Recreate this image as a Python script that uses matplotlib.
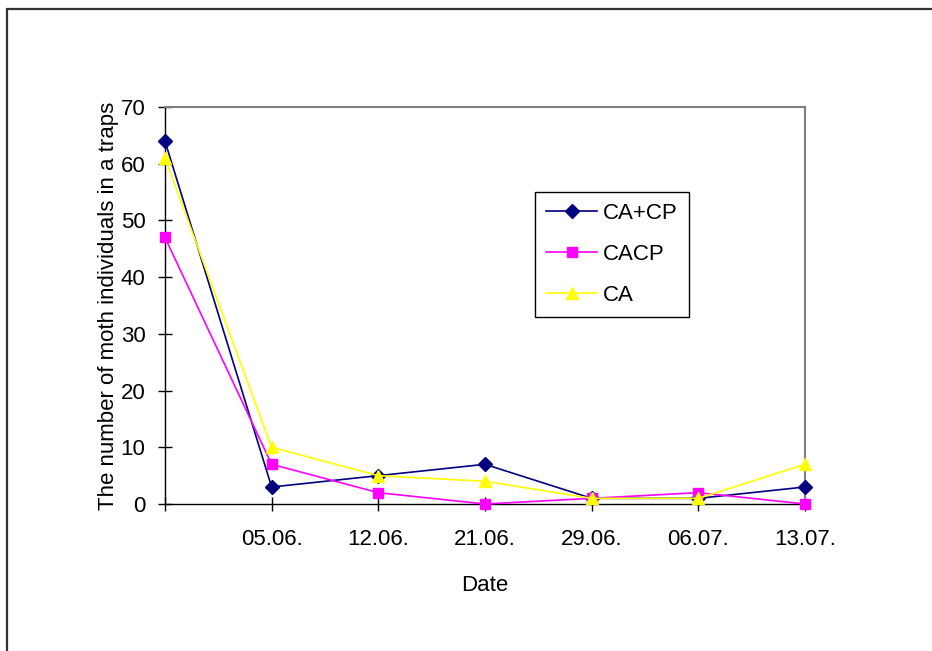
import matplotlib
matplotlib.use("Agg")
import matplotlib.pyplot as plt
from matplotlib.patches import Rectangle

plt.rcParams["font.family"] = ["Liberation Sans", "DejaVu Sans"]

dates = ["", "05.06.", "12.06.", "21.06.", "29.06.", "06.07.", "13.07."]
ca_cp = [64, 3, 5, 7, 1, 1, 3]
cacp = [47, 7, 2, 0, 1, 2, 0]
ca = [61, 10, 5, 4, 1, 1, 7]

fig = plt.figure(figsize=(9.32, 6.51), dpi=100)

# outer chart frame
fig.patches.append(Rectangle((0.0075, -0.2), 1.5, 1.186, transform=fig.transFigure,
                             fill=False, edgecolor="#333333", linewidth=1.6))

ax = fig.add_axes([0.177, 0.2258, 0.6867, 0.6098])
x = list(range(len(dates)))

ax.plot(x, ca_cp, color="#000080", marker="D", markersize=7, linewidth=1.2,
        label="CA+CP", clip_on=False, zorder=3)
ax.plot(x, cacp, color="#FF00FF", marker="s", markersize=7, linewidth=1.2,
        label="CACP", clip_on=False, zorder=3)
ax.plot(x, ca, color="#FFFF00", marker="^", markersize=9, linewidth=1.2,
        label="CA", clip_on=False, zorder=3)

ax.set_xlim(0, 6)
ax.set_ylim(0, 70)
ax.set_xticks(x)
ax.set_xticklabels(dates)
ax.set_yticks(range(0, 71, 10))
ax.tick_params(direction="inout", length=10, width=1, labelsize=16, pad=13, axis="x")
ax.tick_params(direction="inout", length=10, width=1, labelsize=16, pad=9, axis="y")

for side in ["top", "right"]:
    ax.spines[side].set_color("#808080")
    ax.spines[side].set_linewidth(1.5)
for side in ["left", "bottom"]:
    ax.spines[side].set_color("black")
    ax.spines[side].set_linewidth(1.0)

ax.set_xlabel("Date", fontsize=16, labelpad=18)
ax.set_ylabel("The number of moth individuals in a traps", fontsize=16, labelpad=1.5)

leg = ax.legend(loc="upper left", bbox_to_anchor=(0.578, 0.786), borderaxespad=0,
                fontsize=16, frameon=True, fancybox=False, edgecolor="black",
                framealpha=1, handlelength=2.3, borderpad=0.5, labelspacing=0.9,
                handletextpad=0.25)
leg.get_frame().set_linewidth(1.0)

fig.savefig("out.png", dpi=100)
